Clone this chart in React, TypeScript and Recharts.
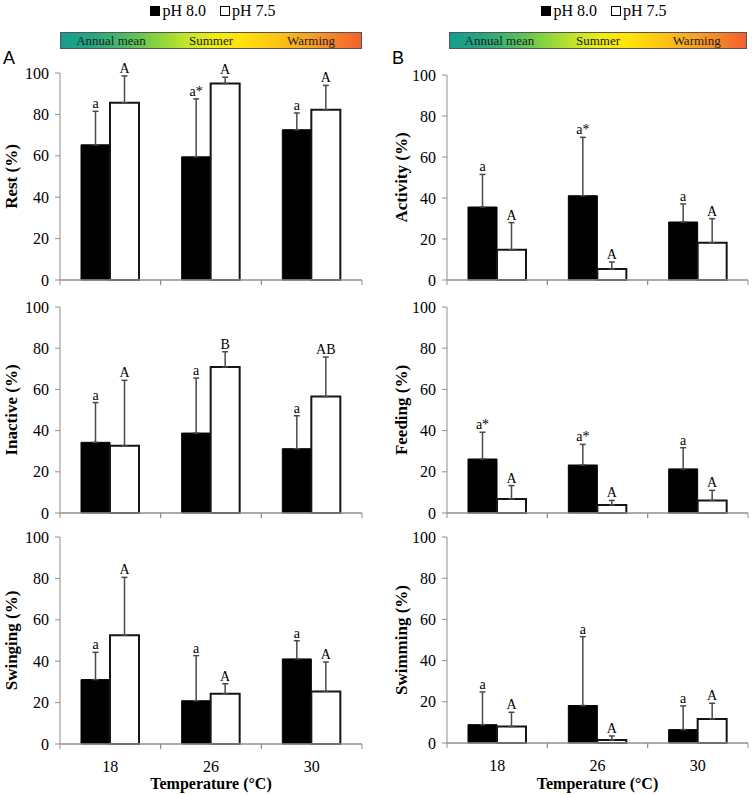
import React from 'react';
import { BarChart, Bar, XAxis, YAxis, ErrorBar, LabelList, Legend } from 'recharts';

const temperatures = ['18', '26', '30'];
const seriesNames = ['pH 8.0', 'pH 7.5'];
const periodLabels = ['Annual mean', 'Summer', 'Warming'];
const yTicks = [0, 20, 40, 60, 80, 100];

// Panel A
const restPH80 = [65.3, 59.5, 72.6];
const restPH80Sd = [16.2, 28.0, 8.1];
const restPH75 = [85.6, 94.9, 82.2];
const restPH75Sd = [13.0, 3.1, 11.8];
const restPH80Letters = ['a', 'a*', 'a'];
const restPH75Letters = ['A', 'A', 'A'];

const inactivePH80 = [34.3, 38.8, 31.2];
const inactivePH80Sd = [19.3, 26.7, 16.0];
const inactivePH75 = [32.7, 70.9, 56.5];
const inactivePH75Sd = [31.7, 7.4, 19.2];
const inactivePH80Letters = ['a', 'a', 'a'];
const inactivePH75Letters = ['A', 'B', 'AB'];

const swingingPH80 = [31.1, 20.9, 41.1];
const swingingPH80Sd = [13.2, 21.8, 8.8];
const swingingPH75 = [52.5, 24.3, 25.4];
const swingingPH75Sd = [28.0, 4.8, 14.2];
const swingingPH80Letters = ['a', 'a', 'a'];
const swingingPH75Letters = ['A', 'A', 'A'];

// Panel B
const activityPH80 = [35.6, 41.1, 28.3];
const activityPH80Sd = [15.9, 28.5, 8.8];
const activityPH75 = [14.8, 5.4, 18.2];
const activityPH75Sd = [13.2, 3.4, 11.7];
const activityPH80Letters = ['a', 'a*', 'a'];
const activityPH75Letters = ['A', 'A', 'A'];

const feedingPH80 = [26.2, 23.3, 21.4];
const feedingPH80Sd = [13.0, 10.0, 10.3];
const feedingPH75 = [6.8, 3.9, 6.1];
const feedingPH75Sd = [6.5, 2.2, 4.9];
const feedingPH80Letters = ['a*', 'a*', 'a'];
const feedingPH75Letters = ['A', 'A', 'A'];

const swimmingPH80 = [8.9, 18.2, 6.5];
const swimmingPH80Sd = [15.9, 33.4, 11.5];
const swimmingPH75 = [8.0, 1.5, 11.7];
const swimmingPH75Sd = [6.9, 1.9, 7.6];
const swimmingPH80Letters = ['a', 'a', 'a'];
const swimmingPH75Letters = ['A', 'A', 'A'];

const SERIF = "'Liberation Serif', 'Times New Roman', serif";
const AXIS_GRAY = '#8f8f8f';

function buildRows(b: number[], bSd: number[], w: number[], wSd: number[], bL: string[], wL: string[]) {
  return temperatures.map((t, i) => ({
    temp: t,
    ph80: b[i],
    ph80Err: [0, bSd[i]],
    ph80Top: b[i] + bSd[i],
    ph80Letter: bL[i],
    ph75: w[i],
    ph75Err: [0, wSd[i]],
    ph75Top: w[i] + wSd[i],
    ph75Letter: wL[i],
  }));
}

const makeTick = (showLabel: boolean, plotW: number) => (props: any) => {
  const { x, y, payload, width, visibleTicksCount } = props;
  const w = typeof width === 'number' && width > 0 ? width : plotW;
  const n = visibleTicksCount || temperatures.length;
  const half = w / n / 2;
  return (
    <g>
      <line x1={x - half} x2={x - half} y1={y} y2={y + 5} stroke={AXIS_GRAY} strokeWidth={1} />
      <line x1={x + half} x2={x + half} y1={y} y2={y + 5} stroke={AXIS_GRAY} strokeWidth={1} />
      {showLabel && (
        <text x={x} y={y + 28} textAnchor="middle" fontSize={16} fontFamily={SERIF} fill="#000">
          {payload.value}
        </text>
      )}
    </g>
  );
};

const renderLegend = (props: any) => {
  const items = (props.payload || [])
    .filter((p: any) => seriesNames.includes(p.value))
    .sort((a: any, b: any) => seriesNames.indexOf(a.value) - seriesNames.indexOf(b.value));
  return (
    <div style={{ display: 'flex', justifyContent: 'center', gap: 14, fontFamily: SERIF, fontSize: 16, color: '#000' }}>
      {items.map((p: any) => (
        <div key={p.value} style={{ display: 'flex', alignItems: 'center' }}>
          <span
            style={{
              display: 'inline-block',
              width: 8,
              height: 8,
              background: p.color,
              border: '1.5px solid #000',
              marginRight: 2,
            }}
          />
          <span>{p.value}</span>
        </div>
      ))}
    </div>
  );
};

function Panel(props: any) {
  const {
    data, yLabel, left, top, height, marginTop, xAxisHeight, yAxisWidth, rightMargin, yLabelX,
    bottomRow, legend, legendLeft, legendWidth,
  } = props;
  const plotW = 376 - yAxisWidth - rightMargin;
  return (
    <div style={{ position: 'absolute', left, top, width: 376, height }}>
      <BarChart
        width={376}
        height={height}
        data={data}
        margin={{ top: marginTop, right: rightMargin, left: 0, bottom: 0 }}
        barGap={0}
        barSize={29}
      >
        <XAxis
          xAxisId="main"
          dataKey="temp"
          height={xAxisHeight}
          interval={0}
          tickLine={false}
          tickSize={0}
          tickMargin={0}
          axisLine={{ stroke: AXIS_GRAY, strokeWidth: 1.5 }}
          tick={makeTick(bottomRow, plotW)}
          label={
            bottomRow
              ? {
                  value: 'Temperature (°C)',
                  position: 'insideBottom',
                  offset: 6,
                  style: { fontFamily: SERIF, fontSize: 16, fontWeight: 'bold', fill: '#000' },
                }
              : undefined
          }
        />
        <XAxis xAxisId="over" dataKey="temp" hide />
        <YAxis
          domain={[0, 100]}
          ticks={yTicks}
          interval={0}
          width={yAxisWidth}
          tickSize={5}
          tickMargin={6}
          axisLine={{ stroke: AXIS_GRAY, strokeWidth: 1 }}
          tickLine={{ stroke: AXIS_GRAY, strokeWidth: 1 }}
          tick={{ fontFamily: SERIF, fontSize: 16, fill: '#000' }}
          label={(lp: any) => {
            const vb = lp.viewBox || {};
            const cx = (vb.x || 0) + yLabelX;
            const cy = (vb.y || 0) + (vb.height || 0) / 2;
            return (
              <text
                x={cx}
                y={cy}
                transform={`rotate(-90, ${cx}, ${cy})`}
                textAnchor="middle"
                dominantBaseline="central"
                fontFamily={SERIF}
                fontSize={17}
                fontWeight="bold"
                fill="#000"
              >
                {yLabel}
              </text>
            );
          }}
        />
        {legend && (
          <Legend
            layout="horizontal"
            verticalAlign="middle"
            align="center"
            wrapperStyle={{ top: 2, left: legendLeft, width: legendWidth }}
            content={renderLegend}
          />
        )}
        <Bar xAxisId="main" dataKey="ph80" name={seriesNames[0]} fill="#000" stroke="#000" strokeWidth={1} isAnimationActive={false}>
          <ErrorBar dataKey="ph80Err" direction="y" width={3} stroke="#4a4a4a" strokeWidth={1.5} isAnimationActive={false} />
        </Bar>
        <Bar xAxisId="main" dataKey="ph75" name={seriesNames[1]} fill="#fff" stroke="#151515" strokeWidth={2} isAnimationActive={false}>
          <ErrorBar dataKey="ph75Err" direction="y" width={3} stroke="#4a4a4a" strokeWidth={1.5} isAnimationActive={false} />
        </Bar>
        <Bar xAxisId="over" dataKey="ph80Top" fill="none" stroke="none" legendType="none" isAnimationActive={false}>
          <LabelList dataKey="ph80Letter" position="top" offset={3} fill="#000" fontSize={14} fontFamily={SERIF} />
        </Bar>
        <Bar xAxisId="over" dataKey="ph75Top" fill="none" stroke="none" legendType="none" isAnimationActive={false}>
          <LabelList dataKey="ph75Letter" position="top" offset={3} fill="#000" fontSize={14} fontFamily={SERIF} />
        </Bar>
      </BarChart>
    </div>
  );
}

function GradientBar({ left, width }: { left: number; width: number }) {
  return (
    <div
      style={{
        position: 'absolute',
        left,
        top: 32,
        width,
        height: 17,
        boxSizing: 'border-box',
        border: '1px solid #555',
        background:
          'linear-gradient(to right, #149e8e 0%, #22a583 10%, #4fbc60 22%, #8fd53c 33%, #c8e626 43%, #eeec14 51%, #ffe30c 60%, #fcc414 72%, #f89a26 85%, #f2602e 100%)',
        display: 'flex',
        fontFamily: SERIF,
        fontSize: 13,
        color: '#222',
        lineHeight: '15px',
      }}
    >
      {periodLabels.map((p) => (
        <div key={p} style={{ flex: 1, textAlign: 'center' }}>
          {p}
        </div>
      ))}
    </div>
  );
}

const colA = { left: 0, yAxisWidth: 60, rightMargin: 14, yLabelX: 11, legendLeft: 60, legendWidth: 306 };
const colB = { left: 376, yAxisWidth: 71, rightMargin: 4, yLabelX: 25, legendLeft: 71, legendWidth: 314 };

export default function App() {
  return (
    <div style={{ position: 'absolute', left: 0, top: 0, width: 752, height: 795, background: '#fff', overflow: 'hidden' }}>
      <GradientBar left={60} width={302} />
      <GradientBar left={449} width={298} />
      <span style={{ position: 'absolute', left: 3, top: 48, fontFamily: "'Liberation Sans', Arial, sans-serif", fontSize: 18 }}>A</span>
      <span style={{ position: 'absolute', left: 392, top: 48, fontFamily: "'Liberation Sans', Arial, sans-serif", fontSize: 18 }}>B</span>

      <Panel {...colA} top={0} height={290} marginTop={73} xAxisHeight={10} legend yLabel="Rest (%)"
        data={buildRows(restPH80, restPH80Sd, restPH75, restPH75Sd, restPH80Letters, restPH75Letters)} />
      <Panel {...colA} top={290} height={233} marginTop={17} xAxisHeight={10} yLabel="Inactive (%)"
        data={buildRows(inactivePH80, inactivePH80Sd, inactivePH75, inactivePH75Sd, inactivePH80Letters, inactivePH75Letters)} />
      <Panel {...colA} top={523} height={272} marginTop={14} xAxisHeight={51} bottomRow yLabel="Swinging (%)"
        data={buildRows(swingingPH80, swingingPH80Sd, swingingPH75, swingingPH75Sd, swingingPH80Letters, swingingPH75Letters)} />

      <Panel {...colB} top={0} height={290} marginTop={75} xAxisHeight={10} legend yLabel="Activity (%)"
        data={buildRows(activityPH80, activityPH80Sd, activityPH75, activityPH75Sd, activityPH80Letters, activityPH75Letters)} />
      <Panel {...colB} top={290} height={233} marginTop={17} xAxisHeight={10} yLabel="Feeding (%)"
        data={buildRows(feedingPH80, feedingPH80Sd, feedingPH75, feedingPH75Sd, feedingPH80Letters, feedingPH75Letters)} />
      <Panel {...colB} top={523} height={272} marginTop={14} xAxisHeight={52} bottomRow yLabel="Swimming (%)"
        data={buildRows(swimmingPH80, swimmingPH80Sd, swimmingPH75, swimmingPH75Sd, swimmingPH80Letters, swimmingPH75Letters)} />
    </div>
  );
}
